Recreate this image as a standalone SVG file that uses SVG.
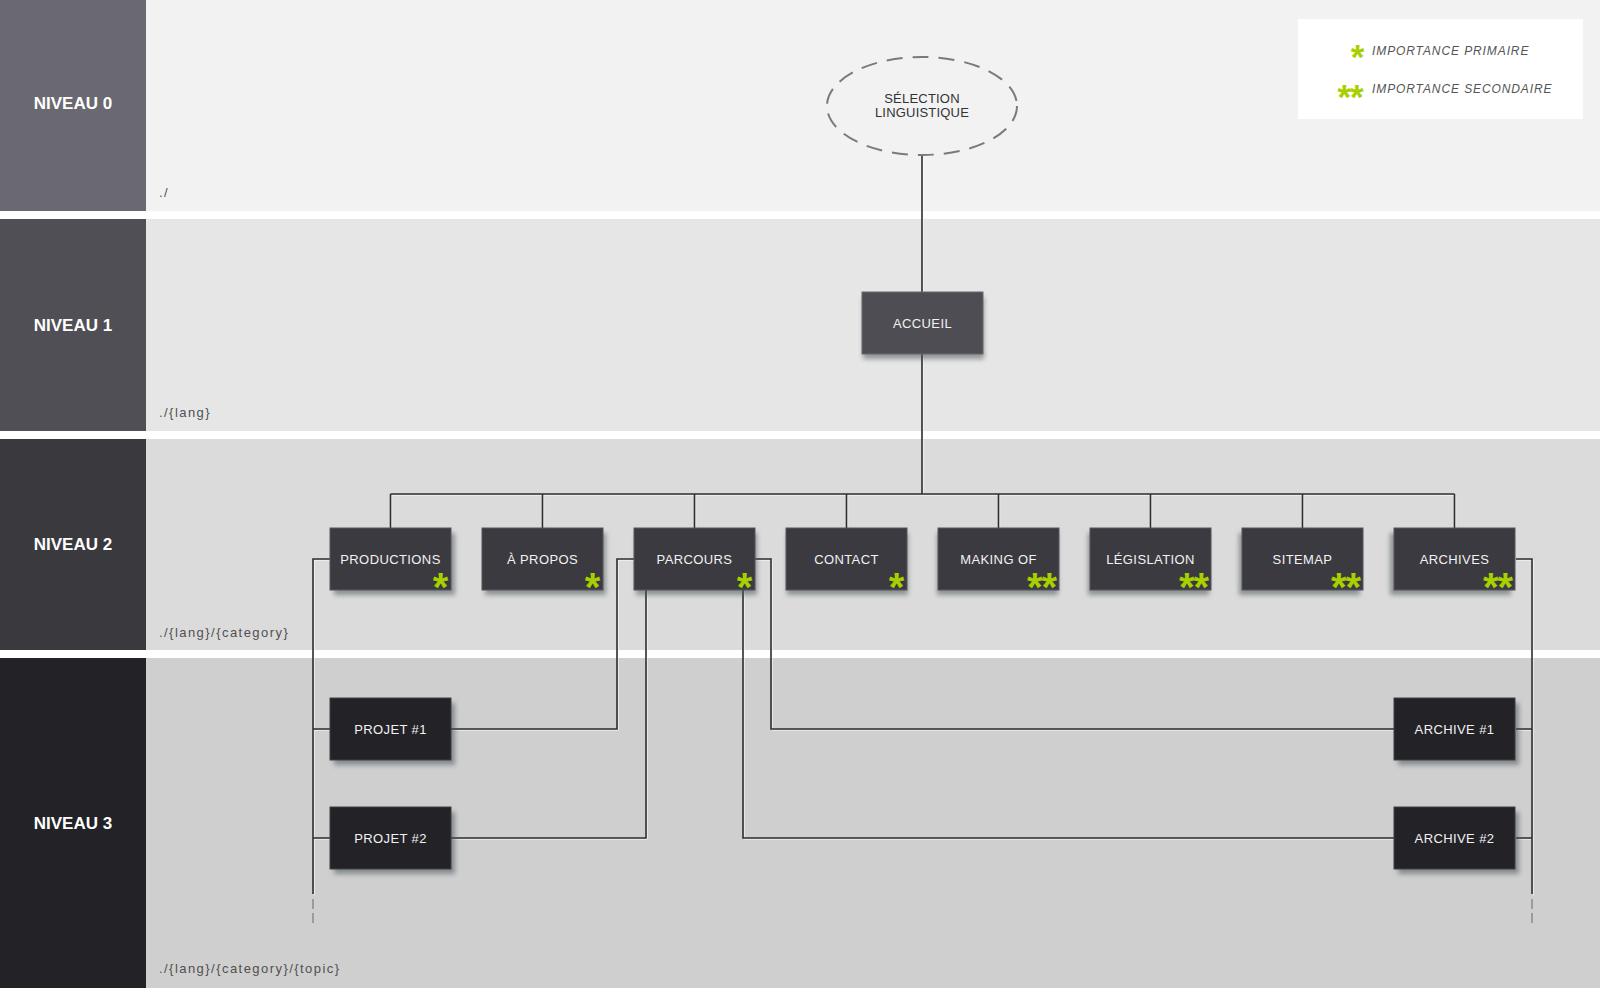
<svg xmlns="http://www.w3.org/2000/svg" xmlns:xlink="http://www.w3.org/1999/xlink" width="1600" height="988" viewBox="0 0 1600 988">
<style>
.lvl{font-family:"Liberation Sans",Arial,sans-serif;font-weight:bold;font-size:17px;fill:#ffffff;text-anchor:middle}
.path{font-family:"Liberation Sans",Arial,sans-serif;font-size:13px;letter-spacing:1.45px;fill:#505050}
.bt{font-family:"Liberation Sans",Arial,sans-serif;font-size:13px;letter-spacing:0.4px;fill:#f2f2f2;text-anchor:middle}
.et{font-family:"Liberation Sans",Arial,sans-serif;font-size:13px;letter-spacing:0.2px;fill:#333333;text-anchor:middle}
.lg{font-family:"Liberation Sans",Arial,sans-serif;font-size:12px;font-style:italic;letter-spacing:0.9px;fill:#555555}
.ast{font-family:"Liberation Sans",Arial,sans-serif;font-weight:bold;font-size:40px;fill:#a8cf00;text-anchor:middle;letter-spacing:-1px}
.ast.s{font-size:35px}
.sh{fill:#4a5358;opacity:0.55;filter:url(#blur)}
.b1{fill:#4e4d53;stroke:#6a696f;stroke-width:1}
.b2{fill:#3b3a40;stroke:#57565c;stroke-width:1}
.b3{fill:#232227;stroke:#404045;stroke-width:1}
.ln{fill:none;stroke:#2e2e2e;stroke-width:1.6}
.hl{fill:none;stroke:#ffffff;stroke-width:1;opacity:0.7}
.dash{fill:none;stroke:#8a8a8a;stroke-width:1.5;stroke-dasharray:10 4}
</style>
<defs>
<filter id="blur" x="-20%" y="-20%" width="140%" height="160%"><feGaussianBlur stdDeviation="2.5"/></filter>
<g id="conn-paths">
<path d="M922 155V292"/>
<path d="M922 354V494"/>
<path d="M390.5 494H1454.5"/>
<path d="M390.5 494V528M542.5 494V528M694.5 494V528M846.5 494V528M998.5 494V528M1150.5 494V528M1302.5 494V528M1454.5 494V528"/>
<path d="M330 559H313V894"/>
<path d="M313 729H330M313 838H330"/>
<path d="M1516 559H1532V894"/>
<path d="M1532 729H1516M1532 838H1516"/>
<path d="M634 559H617V729H451"/>
<path d="M646 590V838H451"/>
<path d="M743 590V838H1395"/>
<path d="M755 559H771V729H1395"/>
</g>
</defs>

<g id="bands">
<rect x="0" y="0" width="1600" height="988" fill="#ffffff"/>
<rect x="146" y="0" width="1454" height="211" fill="#f2f2f2"/>
<rect x="146" y="219" width="1454" height="212" fill="#e6e6e6"/>
<rect x="146" y="439" width="1454" height="211" fill="#dbdbdb"/>
<rect x="146" y="658" width="1454" height="330" fill="#cfcfcf"/>
<rect x="0" y="0" width="146" height="211" fill="#6a6971"/>
<rect x="0" y="219" width="146" height="212" fill="#504f55"/>
<rect x="0" y="439" width="146" height="211" fill="#3a393e"/>
<rect x="0" y="658" width="146" height="330" fill="#232226"/>
<text class="lvl" x="73" y="109">NIVEAU 0</text>
<text class="lvl" x="73" y="331">NIVEAU 1</text>
<text class="lvl" x="73" y="550">NIVEAU 2</text>
<text class="lvl" x="73" y="829">NIVEAU 3</text>
<text class="path" x="159" y="197">./</text>
<text class="path" x="159" y="417">./{lang}</text>
<text class="path" x="159" y="637">./{lang}/{category}</text>
<text class="path" x="159" y="973">./{lang}/{category}/{topic}</text>
</g>

<g id="legend">
<rect x="1298" y="19" width="285" height="100" fill="#ffffff"/>
<text class="ast s" x="1357" y="69">*</text>
<text class="lg" x="1372" y="55">IMPORTANCE PRIMAIRE</text>
<text class="ast s" x="1350" y="109">**</text>
<text class="lg" x="1372" y="93">IMPORTANCE SECONDAIRE</text>
</g>

<g id="connectors">
<use xlink:href="#conn-paths" href="#conn-paths" class="hl" transform="translate(1.2,1.2)"/>
<use xlink:href="#conn-paths" href="#conn-paths" class="ln"/>
<path class="dash" d="M313 899V923M1532 899V923"/>
</g>

<g id="node-selection">
<ellipse cx="922" cy="106" rx="95" ry="49" fill="none" stroke="#7a7a7e" stroke-width="2" stroke-dasharray="16 10"/>
<text class="et" x="922" y="103">SÉLECTION</text>
<text class="et" x="922" y="117">LINGUISTIQUE</text>
</g>

<g id="node-accueil">
<rect class="sh" x="863" y="297" width="121" height="62"/>
<rect class="b1" x="862" y="292" width="121" height="62"/>
<text class="bt" x="922.5" y="328">ACCUEIL</text>
</g>

<g id="node-productions">
<rect class="sh" x="334" y="533" width="121" height="62"/>
<rect class="b2" x="330" y="528" width="121" height="62"/>
<text class="bt" x="390.5" y="564">PRODUCTIONS</text>
<text class="ast" x="440" y="601">*</text>
</g>
<g id="node-apropos">
<rect class="sh" x="485" y="533" width="121" height="62"/>
<rect class="b2" x="482" y="528" width="121" height="62"/>
<text class="bt" x="542.5" y="564">À PROPOS</text>
<text class="ast" x="592" y="601">*</text>
</g>
<g id="node-parcours">
<rect class="sh" x="636" y="533" width="121" height="62"/>
<rect class="b2" x="634" y="528" width="121" height="62"/>
<text class="bt" x="694.5" y="564">PARCOURS</text>
<text class="ast" x="744" y="601">*</text>
</g>
<g id="node-contact">
<rect class="sh" x="787" y="533" width="121" height="62"/>
<rect class="b2" x="786" y="528" width="121" height="62"/>
<text class="bt" x="846.5" y="564">CONTACT</text>
<text class="ast" x="896" y="601">*</text>
</g>
<g id="node-makingof">
<rect class="sh" x="937" y="533" width="121" height="62"/>
<rect class="b2" x="938" y="528" width="121" height="62"/>
<text class="bt" x="998.5" y="564">MAKING OF</text>
<text class="ast" x="1041.5" y="601">**</text>
</g>
<g id="node-legislation">
<rect class="sh" x="1088" y="533" width="121" height="62"/>
<rect class="b2" x="1090" y="528" width="121" height="62"/>
<text class="bt" x="1150.5" y="564">LÉGISLATION</text>
<text class="ast" x="1193.5" y="601">**</text>
</g>
<g id="node-sitemap">
<rect class="sh" x="1239" y="533" width="121" height="62"/>
<rect class="b2" x="1242" y="528" width="121" height="62"/>
<text class="bt" x="1302.5" y="564">SITEMAP</text>
<text class="ast" x="1345.5" y="601">**</text>
</g>
<g id="node-archives">
<rect class="sh" x="1390" y="533" width="121" height="62"/>
<rect class="b2" x="1394" y="528" width="121" height="62"/>
<text class="bt" x="1454.5" y="564">ARCHIVES</text>
<text class="ast" x="1497.5" y="601">**</text>
</g>

<g id="node-projet1">
<rect class="sh" x="334" y="703" width="121" height="62"/>
<rect class="b3" x="330" y="698" width="121" height="62"/>
<text class="bt" x="390.5" y="734">PROJET #1</text>
</g>
<g id="node-projet2">
<rect class="sh" x="334" y="812" width="121" height="62"/>
<rect class="b3" x="330" y="807" width="121" height="62"/>
<text class="bt" x="390.5" y="843">PROJET #2</text>
</g>
<g id="node-archive1">
<rect class="sh" x="1398" y="703" width="121" height="62"/>
<rect class="b3" x="1394" y="698" width="121" height="62"/>
<text class="bt" x="1454.5" y="734">ARCHIVE #1</text>
</g>
<g id="node-archive2">
<rect class="sh" x="1398" y="812" width="121" height="62"/>
<rect class="b3" x="1394" y="807" width="121" height="62"/>
<text class="bt" x="1454.5" y="843">ARCHIVE #2</text>
</g>
</svg>
